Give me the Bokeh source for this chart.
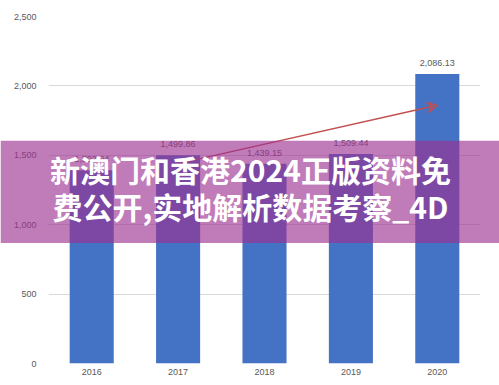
from bokeh.plotting import figure
from bokeh.models import (ColumnDataSource, FactorRange, LabelSet, Label, BoxAnnotation,
                          Arrow, VeeHead, NumeralTickFormatter, FixedTicker)
from bokeh.core.properties import value
from bokeh.embed import file_html
from bokeh.resources import INLINE

years = ["2016", "2017", "2018", "2019", "2020"]
values = [1392.94, 1499.86, 1439.15, 1509.44, 2086.13]
y_ticks = [0, 500, 1000, 1500, 2000, 2500]
trend_from = ("2017", 1440)
trend_to = ("2020", 1860)
banner_lines = ["新澳门和香港2024正版资料免", "费公开,实地解析数据考察_4D"]

labels = [f"{v:,.2f}" for v in values]
src = ColumnDataSource(dict(x=years, top=values, lab=labels))

p = figure(x_range=FactorRange(*years, range_padding=0), y_range=(0, 2500),
           width=499, height=385, output_backend="svg", toolbar_location=None,
           min_border_left=48, min_border_right=19, min_border_top=16, min_border_bottom=22)
p.outline_line_color = None
p.background_fill_color = "white"

p.vbar(x="x", top="top", width=0.51, source=src, fill_color="#4472C4", line_color=None)

p.add_layout(LabelSet(x="x", y="top", text="lab", source=src, text_align="center",
                      text_baseline="bottom", y_offset=8, text_font_size="9px",
                      text_color="#595959", text_font=value("Liberation Sans"), level="glyph"))

p.xgrid.grid_line_color = None
p.ygrid.grid_line_color = "#d9d9d9"
p.yaxis.ticker = FixedTicker(ticks=y_ticks)
p.yaxis.formatter = NumeralTickFormatter(format="0,0")
for ax in (p.xaxis[0], p.yaxis[0]):
    ax.axis_line_color = None
    ax.major_tick_line_color = None
    ax.minor_tick_line_color = None
    ax.major_tick_out = 0
    ax.major_label_text_color = "#595959"
    ax.major_label_text_font_size = "9px"
    ax.major_label_text_font = "Liberation Sans"
p.yaxis.major_label_standoff = 12
p.xaxis.major_label_standoff = 5

i0 = years.index(trend_from[0]) + 0.5
i1 = years.index(trend_to[0]) + 0.5
p.add_layout(Arrow(x_start=i0, y_start=trend_from[1], x_end=i1, y_end=trend_to[1],
                   line_color="#C0504D", line_width=1.5, level="glyph",
                   end=VeeHead(size=10, line_color="#C0504D", line_width=1.5, fill_color=None)))

# banner: a transparent full-width figure laid over the chart
b = figure(width=499, height=103, x_range=(0, 1), y_range=(0, 1),
           output_backend="svg", toolbar_location=None,
           x_axis_type=None, y_axis_type=None, min_border=0)
b.outline_line_color = None
b.grid.visible = False
b.background_fill_alpha = 0
b.border_fill_alpha = 0
b.styles = {"position": "absolute", "top": "140px", "left": "0px"}
b.add_layout(BoxAnnotation(fill_color="#9D3091", fill_alpha=0.64, line_color=None))
for k, t in enumerate(banner_lines):
    b.add_layout(Label(x=250, y=28 + 37 * k, x_units="canvas", y_units="canvas", text=t,
                       text_align="center", text_baseline="middle",
                       text_font="Noto Sans CJK SC", text_font_style="bold",
                       text_font_size="30px", text_color="white"))

open("out.html", "w").write(file_html([p, b], INLINE))
